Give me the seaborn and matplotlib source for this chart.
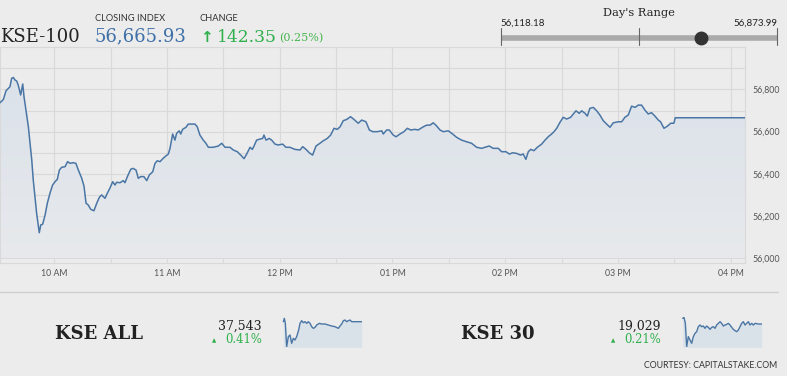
import numpy as np
import pandas as pd
import matplotlib
matplotlib.use("Agg")
import matplotlib.pyplot as plt
import seaborn as sns
from matplotlib.lines import Line2D
from matplotlib.colors import LinearSegmentedColormap

# ---------------- data ----------------
index_name = "KSE-100"
closing_index = 56665.93
change_pts = 142.35
change_pct = 0.25
day_low = 56118.18
day_high = 56873.99

# minutes after 09:30
minutes = [
    1.1, 2.9, 4.3, 5.5, 6.4, 7.3, 8.2, 9.1, 10.0, 10.8,
    12.1, 13.2, 13.9, 14.9, 16.2, 17.1, 18.0, 18.8, 19.7, 20.6,
    22.0, 22.8, 23.8, 25.1, 26.3, 27.7, 29.1, 30.4, 31.6, 32.7,
    33.9, 35.7, 37.1, 38.4, 40.1, 41.5, 42.8, 44.6, 45.8, 46.9,
    48.1, 49.4, 51.1, 52.6, 54.0, 55.2, 57.0, 58.2, 59.6, 61.1,
    62.3, 63.2, 65.0, 66.7, 67.6, 68.9, 70.7, 72.0, 73.5, 74.7,
    76.0, 77.7, 79.2, 80.6, 82.4, 83.6, 84.8, 86.3, 88.0, 89.4,
    90.7, 91.6, 93.0, 94.2, 95.1, 96.5, 97.3, 98.3, 100.1, 101.3,
    103.1, 104.9, 106.1, 107.5, 109.3, 110.7, 112.0, 114.6, 117.3, 119.1,
    120.9, 123.5, 125.3, 127.4, 129.7, 131.0, 132.4, 134.2, 135.4, 136.3,
    137.7, 139.5, 140.9, 141.6, 142.7, 144.4, 145.7, 147.5, 149.2, 151.6,
    153.3, 155.4, 158.1, 160.8, 162.2, 164.0, 165.7, 167.5, 169.3, 171.4,
    173.2, 175.3, 177.1, 178.9, 180.6, 182.1, 183.8, 185.6, 187.7, 189.5,
    191.8, 193.6, 195.9, 197.7, 199.5, 201.9, 204.3, 205.1, 206.9, 208.3,
    210.4, 211.9, 214.0, 216.1, 217.9, 219.7, 222.0, 223.7, 226.4, 228.2,
    230.0, 231.7, 233.1, 235.3, 237.0, 239.7, 242.0, 244.2, 246.8, 249.5,
    252.1, 254.8, 257.5, 259.2, 261.5, 263.6, 266.3, 268.1, 270.4, 272.2,
    274.0, 276.1, 278.2, 279.6, 281.0, 282.3, 283.6, 285.3, 287.1, 289.4,
    291.2, 292.9, 294.7, 296.0, 297.4, 299.2, 300.9, 302.7, 304.8, 307.7,
    309.4, 310.7, 312.5, 313.7, 315.1, 316.9, 318.7, 320.4, 322.2, 324.0,
    325.8, 327.5, 330.2, 332.0, 333.7, 335.5, 337.3, 339.1, 340.8, 342.6,
    344.4, 346.1, 347.9, 349.7, 351.5, 352.7, 354.5, 356.3, 358.1, 359.8,
    360.5, 397.8,
]
values = [
    56737, 56753, 56794, 56805, 56813, 56853, 56857, 56845, 56840, 56821,
    56774, 56826, 56765, 56702, 56623, 56545, 56466, 56371, 56292, 56213,
    56121, 56158, 56161, 56205, 56261, 56308, 56347, 56363, 56374, 56418,
    56431, 56434, 56458, 56450, 56453, 56450, 56418, 56379, 56342, 56261,
    56252, 56232, 56225, 56261, 56289, 56300, 56284, 56308, 56332, 56363,
    56347, 56360, 56358, 56368, 56358, 56387, 56422, 56426, 56418, 56379,
    56387, 56387, 56368, 56395, 56410, 56450, 56462, 56458, 56474, 56485,
    56494, 56521, 56589, 56560, 56592, 56604, 56589, 56611, 56621, 56636,
    56636, 56636, 56623, 56584, 56560, 56545, 56526, 56526, 56532, 56545,
    56526, 56526, 56513, 56505, 56485, 56472, 56494, 56526, 56516, 56532,
    56560, 56565, 56568, 56584, 56560, 56568, 56560, 56541, 56537, 56541,
    56526, 56526, 56516, 56513, 56529, 56516, 56500, 56489, 56532, 56545,
    56557, 56568, 56584, 56616, 56611, 56623, 56652, 56658, 56671, 56658,
    56640, 56655, 56647, 56608, 56600, 56600, 56604, 56589, 56608, 56608,
    56584, 56576, 56589, 56600, 56616, 56608, 56611, 56608, 56623, 56631,
    56631, 56642, 56631, 56608, 56600, 56604, 56589, 56573, 56560, 56552,
    56545, 56526, 56521, 56526, 56532, 56521, 56521, 56505, 56505, 56494,
    56500, 56497, 56489, 56494, 56469, 56505, 56516, 56510, 56526, 56541,
    56560, 56576, 56589, 56600, 56616, 56645, 56668, 56660, 56668, 56699,
    56687, 56699, 56687, 56674, 56711, 56715, 56699, 56679, 56652, 56636,
    56621, 56642, 56647, 56647, 56668, 56679, 56721, 56715, 56726, 56726,
    56702, 56684, 56690, 56674, 56655, 56647, 56616, 56626, 56640, 56640,
    56666, 56666,
]

hour_ticks = [30, 90, 150, 210, 270, 330, 390]
hour_labels = ["10 AM", "11 AM", "12 PM", "01 PM", "02 PM", "03 PM", "04 PM"]
y_labels = [56000, 56200, 56400, 56600, 56800]

# small indices
sub_names = ["KSE ALL", "KSE 30"]
sub_levels = ["37,543", "19,029"]
sub_pcts = ["0.41%", "0.21%"]
spark_all_x = [4, 7, 10, 14, 19, 24, 29, 34, 39, 44, 50, 54, 59, 64, 69, 74, 79, 84, 89, 94,
               99, 104, 112, 119, 129, 139, 149, 159, 169, 174, 179, 184, 189, 194, 199, 204, 209, 219, 239]
spark_all_y = [77, 87, 72, 2, 32, 37, 12, 27, 22, 32, 52, 72, 80, 74, 77, 72, 77, 72, 62, 57,
               60, 67, 72, 70, 70, 67, 64, 62, 57, 64, 70, 80, 82, 77, 80, 82, 77, 77, 77]
spark_30_x = [2, 6, 10, 14, 19, 24, 29, 34, 39, 44, 49, 54, 59, 64, 69, 74, 79, 84, 89, 94,
              99, 104, 109, 114, 119, 124, 129, 134, 139, 144, 149, 154, 159, 164, 169, 174, 179, 184, 189, 194,
              199, 204, 209, 214, 219, 229, 239]
spark_30_y = [87, 90, 72, 2, 32, 22, 12, 32, 42, 47, 62, 67, 62, 64, 57, 64, 60, 54, 60, 62,
              57, 67, 72, 77, 72, 64, 67, 69, 72, 67, 60, 54, 50, 47, 52, 62, 72, 77, 67, 72,
              77, 67, 72, 67, 72, 70, 70]

# ---------------- style ----------------
sns.set_theme(style="white")
plt.rcParams["font.family"] = ["Lato", "DejaVu Sans"]
SERIF = ["DejaVu Serif", "DejaVu Sans"]
BG = "#ececec"
GRID = "#d9d9d9"
LINE = "#4a76a5"
BLUE = "#3f70a8"
GREEN = "#2eb04b"
DARK = "#222222"
GREY = "#555555"

W, H = 787, 376
fig = plt.figure(figsize=(W / 100, H / 100), dpi=100, facecolor=BG)


def fx(x):
    return x / W


def fy(y):
    return 1 - y / H


def axes_px(x0, y0, x1, y1):
    return fig.add_axes([fx(x0), fy(y1), (x1 - x0) / W, (y1 - y0) / H])


# ---------------- main chart ----------------
ax = axes_px(0, 47.3, 745.3, 263.3)
ax.set_facecolor(BG)
df = pd.DataFrame({"t": minutes, "v": values})
sns.lineplot(data=df, x="t", y="v", ax=ax, color=LINE, linewidth=1.1, zorder=4)
poly = ax.fill_between(df["t"], df["v"], 56000, color="none", linewidth=0)
cmap = LinearSegmentedColormap.from_list("fade", ["#e7e9ec", "#dbe2ea"])
grad = np.linspace(0, 1, 256).reshape(-1, 1)
im = ax.imshow(grad, extent=[min(minutes), max(minutes), 56000, max(values)],
               origin="lower", aspect="auto", cmap=cmap, zorder=2)
im.set_clip_path(poly.get_paths()[0], transform=ax.transData)

ax.set_xlim(1.1, 397.8)
ax.set_ylim(55976, 57000)
ax.set_xticks(np.arange(30, 391, 30))
ax.set_xticklabels([hour_labels[hour_ticks.index(t)] if t in hour_ticks else "" for t in np.arange(30, 391, 30)])
ax.set_yticks(np.arange(56000, 57000, 100))
ax.set_yticklabels([f"{v:,}" if v in y_labels else "" for v in np.arange(56000, 57000, 100)])
ax.yaxis.tick_right()
ax.tick_params(axis="y", length=0, pad=5, labelsize=6.3, labelcolor=GREY)
ax.tick_params(axis="x", length=2.2, width=0.8, color=GRID, pad=2, labelsize=6.3, labelcolor=GREY)
ax.grid(True, color=GRID, linewidth=0.8, zorder=1)
ax.set_axisbelow(True)
for s in ax.spines.values():
    s.set_color(GRID)
    s.set_linewidth(0.8)
ax.set_xlabel("")
ax.set_ylabel("")

# ---------------- header ----------------
fig.text(fx(0), fy(41.5), index_name, family=SERIF, fontsize=13, color=DARK, va="baseline")
fig.text(fx(95), fy(20.7), "CLOSING INDEX", fontsize=6.7, color="#333333", va="baseline")
fig.text(fx(200), fy(20.7), "CHANGE", fontsize=6.7, color="#333333", va="baseline")
fig.text(fx(95), fy(41.5), f"{closing_index:,.2f}", family=SERIF, fontsize=13, color=BLUE, va="baseline")
fig.text(fx(200), fy(41.5), "↑", family=["DejaVu Sans"], fontsize=11, fontweight="bold", color=GREEN, va="baseline")
fig.text(fx(217), fy(41.5), f"{change_pts:.2f}", family=SERIF, fontsize=12.3, color=GREEN, va="baseline")
fig.text(fx(279), fy(40.8), f"({change_pct:.2f}%)", family=SERIF, fontsize=8, color="#45b54c", va="baseline")

# Day's range
fig.text(fx(639), fy(16.5), "Day's Range", family=SERIF, fontsize=8.2, color=DARK, ha="center", va="baseline")
fig.text(fx(500.7), fy(25.5), f"{day_low:,.2f}", fontsize=7, color=DARK, va="baseline")
fig.text(fx(777), fy(25.5), f"{day_high:,.2f}", fontsize=7, color=DARK, ha="right", va="baseline")
x0r, x1r = 500.7, 777.0
fig.add_artist(Line2D([fx(x0r), fx(x1r)], [fy(38), fy(38)], color="#aaaaaa", lw=4, solid_capstyle="butt"))
for xt in (x0r, (x0r + x1r) / 2, x1r):
    fig.add_artist(Line2D([fx(xt), fx(xt)], [fy(28.3), fy(45)], color="#666666", lw=0.8))
pos = x0r + (closing_index - day_low) / (day_high - day_low) * (x1r - x0r)
fig.add_artist(Line2D([fx(pos)], [fy(37.7)], marker="o", markersize=9, color="#333333", lw=0))

# ---------------- bottom strip ----------------
fig.add_artist(Line2D([fx(0), fx(777.7)], [fy(292.3), fy(292.3)], color="#cfcfcf", lw=1))

blocks = [
    dict(name_x=55, num_r=261.7, spark=(282, 361.7), sx=spark_all_x, sy=spark_all_y),
    dict(name_x=461, num_r=661, spark=(682, 761.7), sx=spark_30_x, sy=spark_30_y),
]
for b, name, lvl, pct in zip(blocks, sub_names, sub_levels, sub_pcts):
    fig.text(fx(b["name_x"]), fy(339.3), name, family=SERIF, fontsize=13, fontweight="bold",
             color=DARK, va="baseline")
    fig.text(fx(b["num_r"]), fy(330), lvl, family=SERIF, fontsize=9, color=DARK, ha="right", va="baseline")
    fig.text(fx(b["num_r"]), fy(343.3), pct, family=SERIF, fontsize=8.4, color=GREEN, ha="right", va="baseline")
    fig.text(fx(b["num_r"] - 48), fy(341), "▲", family=["DejaVu Sans"], fontsize=4, color=GREEN,
             ha="center", va="center")
    sa = axes_px(b["spark"][0], 316.7, b["spark"][1], 347.3)
    sdf = pd.DataFrame({"x": b["sx"], "y": b["sy"]})
    sa.fill_between(sdf["x"], sdf["y"], 0, color="#d9e1e9", linewidth=0)
    sns.lineplot(data=sdf, x="x", y="y", ax=sa, color=LINE, linewidth=1.0)
    sa.set_xlim(0, 239)
    sa.set_ylim(0, 92)
    sa.axis("off")

fig.text(fx(777.7), fy(368.5), "COURTESY: CAPITALSTAKE.COM", fontsize=6.3, color="#333333",
         ha="right", va="baseline")

fig.savefig("out.png", dpi=100, facecolor=BG)
